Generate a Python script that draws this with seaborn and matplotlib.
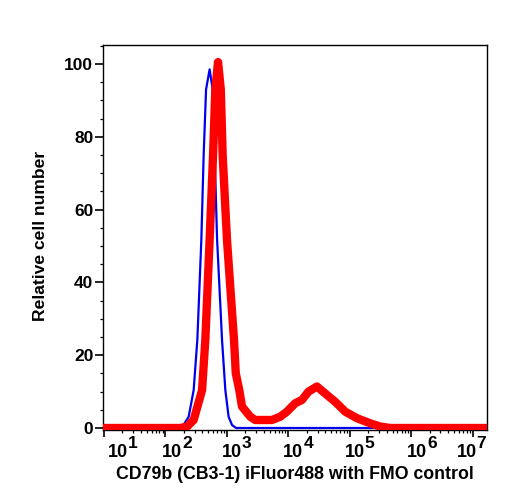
import numpy as np
import pandas as pd
import matplotlib
matplotlib.use("Agg")
import matplotlib.pyplot as plt
import seaborn as sns
from matplotlib.ticker import FixedLocator, LogLocator, MultipleLocator, NullFormatter

# ---------------- data ----------------
# FMO control (blue): x as log10 of fluorescence intensity, y relative cell number
blue_log10 = [0.98, 2.20, 2.293, 2.379, 2.460, 2.520, 2.585, 2.623, 2.662, 2.720,
              2.769, 2.802, 2.841, 2.922, 2.976, 3.029, 3.085, 3.150, 7.24]
blue_count = [0.0, 0.0, 0.8, 3.1, 10.4, 24.2, 51.6, 75.0, 93.0, 98.5,
              93.0, 75.0, 52.0, 24.2, 10.4, 3.1, 0.8, 0.0, 0.0]

# CD79b stained sample (red)
red_log10 = [0.98, 2.244, 2.353, 2.460, 2.597, 2.650, 2.720, 2.776, 2.813, 2.857,
             2.902, 2.932, 3.003, 3.117, 3.146, 3.203, 3.247, 3.382, 3.463, 3.735,
             3.870, 3.979, 4.114, 4.223, 4.330, 4.467, 4.629, 4.764, 4.927, 5.117,
             5.333, 5.496, 5.660, 7.24]
red_count = [0.0, 0.0, 0.4, 2.2, 10.4, 24.2, 51.6, 75.0, 93.0, 100.5,
             93.0, 75.0, 51.6, 24.2, 15.0, 10.4, 5.9, 3.1, 2.2, 2.2,
             3.1, 4.5, 6.8, 7.7, 10.0, 11.4, 9.1, 7.2, 4.5, 2.7,
             1.3, 0.4, 0.0, 0.0]

xtick_exponents = [1, 2, 3, 4, 5, 6, 7]
ytick_values = [0, 20, 40, 60, 80, 100]
x_label = "CD79b (CB3-1) iFluor488 with FMO control"
y_label = "Relative cell number"

# ---------------- style ----------------
sns.set_theme(style="ticks")
plt.rcParams['font.family'] = ['Liberation Sans', 'DejaVu Sans']
plt.rcParams['font.weight'] = 'bold'
plt.rcParams['text.color'] = 'black'
plt.rcParams['axes.labelcolor'] = 'black'
plt.rcParams['xtick.color'] = 'black'
plt.rcParams['ytick.color'] = 'black'

W, H = 508, 500
fig = plt.figure(figsize=(W / 100, H / 100), dpi=100)
ax = fig.add_axes([103 / W, 1 - 430 / H, 384 / W, 385 / H])

df_blue = pd.DataFrame({'intensity': 10 ** np.array(blue_log10), 'count': blue_count})
df_red = pd.DataFrame({'intensity': 10 ** np.array(red_log10), 'count': red_count})

sns.lineplot(data=df_blue, x='intensity', y='count', color='#0000ee', linewidth=1.6,
             sort=False, estimator=None, ax=ax, zorder=2)
sns.lineplot(data=df_red, x='intensity', y='count', color='#ff0000', linewidth=6.0,
             sort=False, estimator=None, ax=ax, zorder=3,
             solid_joinstyle='round', solid_capstyle='round')

ax.set_xscale('log')
ax.set_xlim(10 ** 0.984, 10 ** 7.236)
ax.set_ylim(-0.55, 105.2)

for s in ax.spines.values():
    s.set_visible(True)
    s.set_linewidth(1.0)
    s.set_color('black')

ax.xaxis.set_major_locator(FixedLocator([10.0 ** e for e in xtick_exponents]))
ax.xaxis.set_minor_locator(LogLocator(base=10, subs=np.arange(2, 10), numticks=30))
ax.xaxis.set_major_formatter(NullFormatter())
ax.xaxis.set_minor_formatter(NullFormatter())
ax.yaxis.set_major_locator(FixedLocator(ytick_values))
ax.yaxis.set_minor_locator(MultipleLocator(5))

ax.tick_params(axis='y', which='major', length=5.5, width=1.2, direction='out',
               labelsize=12.5, pad=1.5, colors='black')
ax.tick_params(axis='y', which='minor', length=2.5, width=0.9, direction='out',
               colors='black')
ax.tick_params(axis='x', which='major', length=4.8, width=1.2, direction='out',
               labelbottom=False, colors='black')
ax.tick_params(axis='x', which='minor', length=2.4, width=0.9, direction='out',
               colors='black')
ax.tick_params(top=False, right=False, which='both')
for lab in ax.get_yticklabels():
    lab.set_fontweight('bold')

# x tick labels as "10" with a full-size exponent
label_dx_px = [13.5, 6.7, 5.0, 5.0, 5.0, 6.0, -6.0]
px = 72 / 100
for e, dx in zip(xtick_exponents, label_dx_px):
    ax.annotate("10", xy=(10.0 ** e, 0), xycoords=('data', 'axes fraction'),
                xytext=(dx * px, -26.7 * px), textcoords='offset points',
                ha='center', va='baseline', fontsize=13, fontweight='bold',
                color='black', annotation_clip=False)
    ax.annotate(str(e), xy=(10.0 ** e, 0), xycoords=('data', 'axes fraction'),
                xytext=((dx + 10.2) * px, -18.3 * px), textcoords='offset points',
                ha='left', va='baseline', fontsize=12.5, fontweight='bold',
                color='black', annotation_clip=False)

ax.set_xlabel(x_label, fontsize=12.8, fontweight='bold', va='top', color='black')
ax.xaxis.set_label_coords(0.499, -0.0925)
ax.set_ylabel(y_label, fontsize=12.6, fontweight='bold', color='black')
ax.yaxis.set_label_coords(-0.143, 0.504)

fig.savefig('out.png', dpi=100, facecolor='white')
